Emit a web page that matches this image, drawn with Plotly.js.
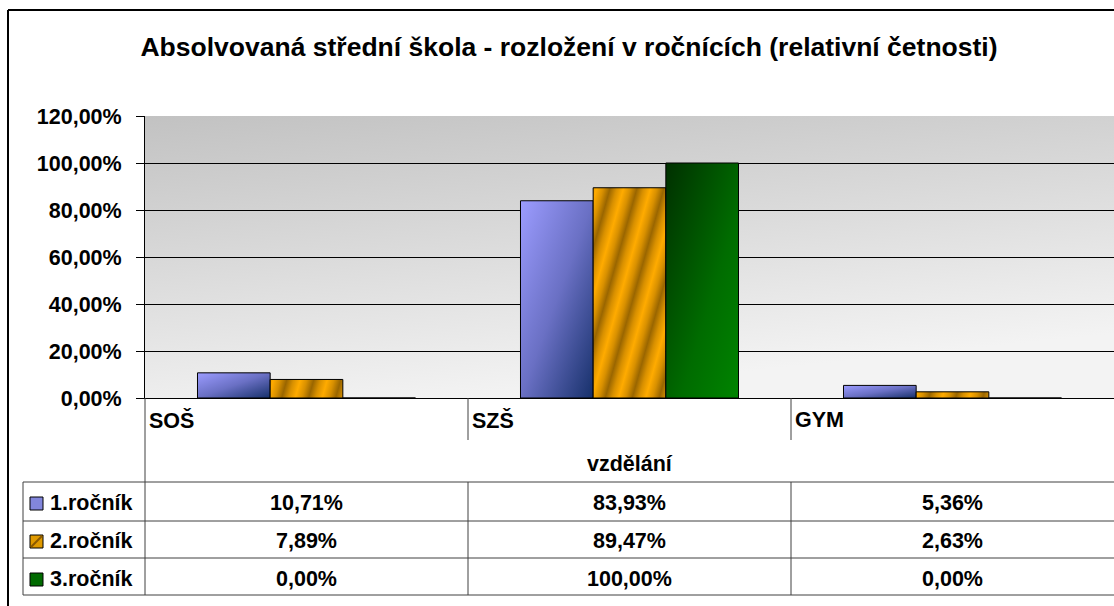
<!DOCTYPE html>
<html><head><meta charset="utf-8">
<script src="https://cdn.plot.ly/plotly-3.0.1.min.js"></script>
<style>html,body{margin:0;padding:0;background:#fff}#chart{width:1114px;height:606px}</style>
</head><body><div id="chart"></div>
<script>
// ---- data ----
const categories = ['SOŠ', 'SZŠ', 'GYM'];
const seriesNames = ['1.ročník', '2.ročník', '3.ročník'];
const rocnik1 = [0.1071, 0.8393, 0.0536];
const rocnik2 = [0.0789, 0.8947, 0.0263];
const rocnik3 = [0.0, 1.0, 0.0];
const yTickVals = [0, 0.2, 0.4, 0.6, 0.8, 1.0, 1.2];
const xAxisTitle = 'vzdělání';
const chartTitle = 'Absolvovaná střední škola - rozložení v ročnících (relativní četnosti)';

// ---- layout helpers ----
const W = 1114, H = 606, L = 145, R = 0, T = 116, B = 208;
const PW = W - L - R, PH = H - T - B;
const xp = px => (px - L) / PW;
const yp = py => (H - B - py) / PH;
const FONT = 'Liberation Sans, Arial, sans-serif';
const bold = (size) => ({family: FONT, size: size, color: '#000', weight: 700});
const TXT = 21.5;
const fmt = v => (v * 100).toFixed(2).replace('.', ',') + '%';

const allSeries = [rocnik1, rocnik2, rocnik3];
const baseColors = ['#7c80d4', '#e09a00', '#006000'];
const traces = allSeries.map((vals, s) => ({
  type: 'bar', name: seriesNames[s], x: categories, y: vals,
  marker: {color: baseColors[s], line: {color: '#000', width: 1}},
  hoverinfo: 'skip'
}));

const shapes = [];
const annotations = [];
const lineCol = '#404040';
function pline(x0, y0, x1, y1, color, width) {
  shapes.push({type: 'line', xref: 'paper', yref: 'paper', x0: xp(x0), y0: yp(y0), x1: xp(x1), y1: yp(y1),
    line: {color: color || lineCol, width: width || 1}});
}
// outer border
pline(8, 10, 8, 606, '#000', 2);
pline(8, 10, 1114, 10, '#000', 2);
// table horizontals
[482, 521, 558, 595].forEach(py => pline(23, py, 1114, py));
pline(23, 482, 23, 595);
pline(145, 398, 145, 595);
// category separators
[0.5, 1.5].forEach(xv => {
  shapes.push({type: 'line', xref: 'x', yref: 'paper', x0: xv, x1: xv, y0: yp(398), y1: yp(440), line: {color: lineCol, width: 1}});
  shapes.push({type: 'line', xref: 'x', yref: 'paper', x0: xv, x1: xv, y0: yp(482), y1: yp(595), line: {color: lineCol, width: 1}});
});
// category labels
categories.forEach((c, i) => annotations.push({xref: 'x', yref: 'paper', x: i - 0.5, y: yp(420), text: c,
  showarrow: false, xanchor: 'left', yanchor: 'middle', xshift: 2, font: bold(TXT)}));
// axis title
annotations.push({xref: 'x', yref: 'paper', x: 1, y: yp(464), text: xAxisTitle, showarrow: false,
  xanchor: 'center', yanchor: 'middle', font: bold(TXT)});
// table rows
const rowCenters = [503, 541, 579];
const keyColors = ['#8286dc', '#e09a00', '#006a00'];
seriesNames.forEach((nm, s) => {
  const cy = rowCenters[s];
  shapes.push({type: 'rect', xref: 'paper', yref: 'paper', x0: xp(30), x1: xp(43), y0: yp(cy - 6), y1: yp(cy + 7),
    fillcolor: keyColors[s], line: {color: '#000', width: 1}});
  if (s === 1) pline(31, cy + 6, 42, cy - 5, '#8a5800', 2);
  annotations.push({xref: 'paper', yref: 'paper', x: xp(48), y: yp(cy), text: nm, showarrow: false,
    xanchor: 'left', yanchor: 'middle', font: bold(TXT)});
  allSeries[s].forEach((v, i) => annotations.push({xref: 'x', yref: 'paper', x: i, y: yp(cy), text: fmt(v),
    showarrow: false, xanchor: 'center', yanchor: 'middle', font: bold(TXT)}));
});

const bgSvg = "<svg xmlns='http://www.w3.org/2000/svg' width='100' height='100' preserveAspectRatio='none'>" +
  "<defs><linearGradient id='g' x1='0' y1='0' x2='0.35' y2='1'><stop offset='0' stop-color='#c2c2c2'/>" +
  "<stop offset='1' stop-color='#f3f3f3'/></linearGradient></defs><rect width='100' height='100' fill='url(#g)'/></svg>";

const layout = {
  width: W, height: H,
  margin: {l: L, r: R, t: T, b: B, pad: 0},
  paper_bgcolor: '#fff', plot_bgcolor: 'rgba(0,0,0,0)',
  separators: ',.',
  showlegend: false,
  barmode: 'group', bargap: 0.325, bargroupgap: 0,
  title: {text: chartTitle, font: bold(26.5), x: 569 / W, xref: 'container', xanchor: 'center',
    y: 1 - 47 / H, yref: 'container', yanchor: 'middle'},
  xaxis: {type: 'category', showticklabels: false, ticks: '', showgrid: false, showline: true,
    linecolor: '#000', linewidth: 1, zeroline: false, range: [-0.5, 2.5], fixedrange: true},
  yaxis: {range: [0, 1.2], tickvals: yTickVals, tickformat: '.2%', ticks: 'outside', ticklen: 8,
    tickcolor: '#000', showline: true, linecolor: '#000', linewidth: 1, showgrid: true, gridcolor: '#000',
    gridwidth: 1, zeroline: false, tickfont: bold(TXT), ticklabelstandoff: 10, fixedrange: true},
  images: [{source: 'data:image/svg+xml;charset=utf-8,' + encodeURIComponent(bgSvg), xref: 'paper', yref: 'paper',
    x: 0, y: 1, sizex: 1, sizey: 1, sizing: 'stretch', xanchor: 'left', yanchor: 'top', layer: 'below'}],
  shapes: shapes, annotations: annotations
};

Plotly.newPlot('chart', traces, layout, {staticPlot: true, displayModeBar: false}).then(gd => {
  const svg = gd.querySelector('svg.main-svg');
  const NS = 'http://www.w3.org/2000/svg';
  let defs = svg.querySelector('defs');
  function grad(id, attrs, stops) {
    const g = document.createElementNS(NS, 'linearGradient');
    g.setAttribute('id', id);
    Object.keys(attrs).forEach(k => g.setAttribute(k, attrs[k]));
    stops.forEach(([o, c]) => { const st = document.createElementNS(NS, 'stop'); st.setAttribute('offset', o); st.setAttribute('stop-color', c); g.appendChild(st); });
    defs.appendChild(g);
  }
  grad('gBlue', {x1: 0, y1: 0, x2: 1, y2: 1}, [[0, '#9c9cff'], [0.5, '#6a70c4'], [1, '#16306a']]);
  grad('gGreen', {x1: 0, y1: 0, x2: 1, y2: 1}, [[0, '#003000'], [0.6, '#006c00'], [1, '#008400']]);
  grad('gOrange', {gradientUnits: 'userSpaceOnUse', x1: 0, y1: 0, x2: 12.5, y2: 3.5, spreadMethod: 'reflect'},
    [[0, '#9a6600'], [0.5, '#d89000'], [1, '#ffab00']]);
  const ids = ['gBlue', 'gOrange', 'gGreen'];
  gd.querySelectorAll('.barlayer .trace.bars').forEach((tr, s) => {
    tr.querySelectorAll('path').forEach(p => { p.style.fill = 'url(#' + ids[s] + ')'; });
  });
});
</script>
</body></html>
